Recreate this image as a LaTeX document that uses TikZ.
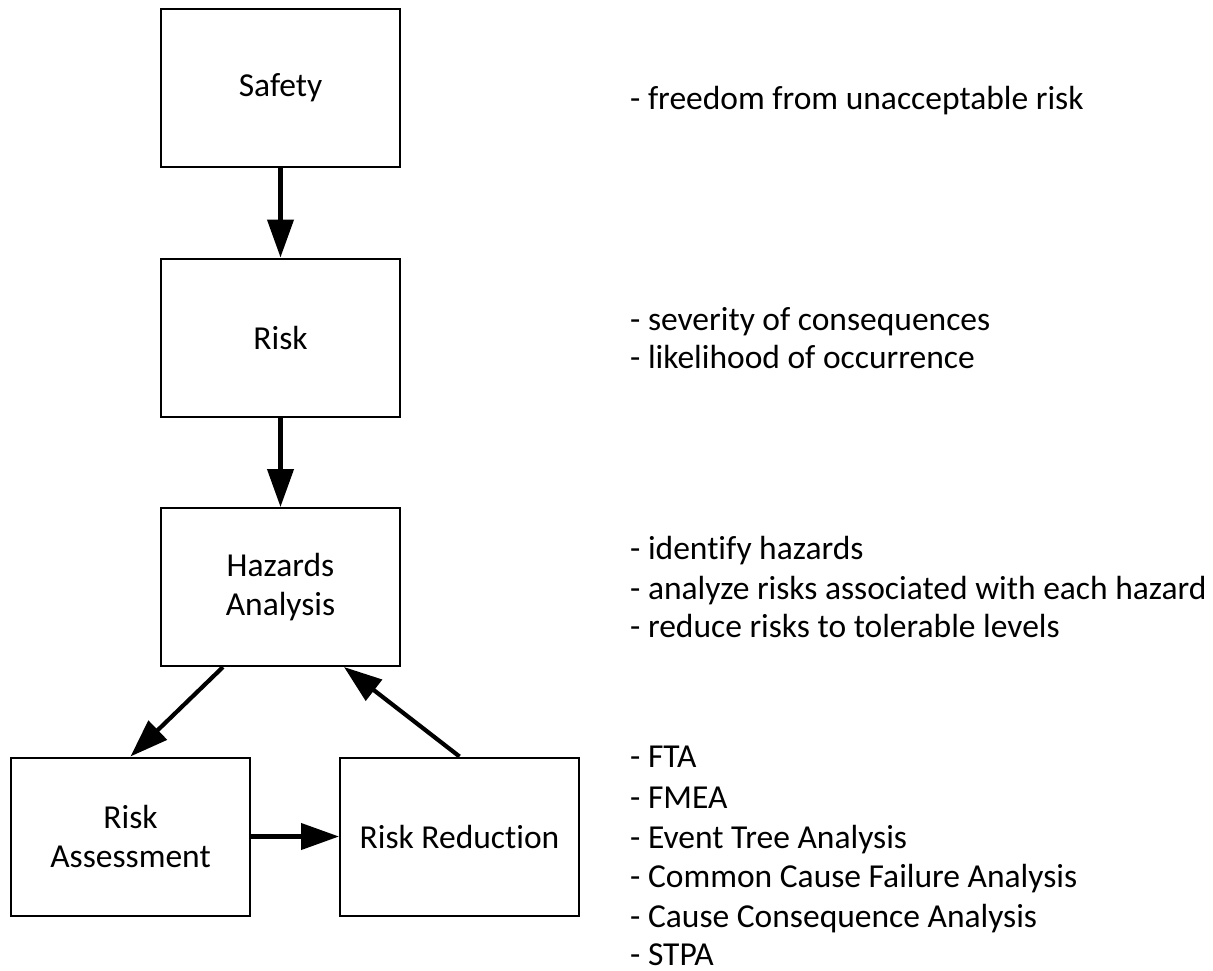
\documentclass[tikz,border=0pt]{standalone}
\usepackage{fontspec}
\setmainfont{Carlito}[Ligatures=NoCommon]
\usetikzlibrary{arrows.meta,calc}
\begin{document}
\begin{tikzpicture}[x=1pt,y=-1pt,
  box/.style={draw,line width=2pt,minimum width=239pt,minimum height=158pt,inner sep=0pt,align=center,font=\fontsize{33.5}{39.5}\selectfont},
  conn/.style={line width=4.2pt,-{Triangle[length=38pt,width=26pt]}},
  note/.style={anchor=base west,inner sep=0pt,font=\fontsize{33.5}{39}\selectfont}]
\useasboundingbox (0,0) rectangle (1213,971);
\node[box] (safety) at (280.5,88) {Safety};
\node[box] (risk) at (280.5,337.5) {Risk};
\node[box] (haz) at (280.5,587) {Hazards\\Analysis};
\node[box] (ra) at (130.5,836.5) {Risk\\Assessment};
\node[box] (rr) at (459.5,836.5) {Risk Reduction};
\draw[conn] (safety.south) -- (risk.north);
\draw[conn] (risk.south) -- (haz.north);
\draw[conn] ($(haz.south)+(-57.5,0)$) -- (ra.north);
\draw[conn] (rr.north) -- ($(haz.south)+(63.5,0)$);
\draw[conn] (ra.east) -- (rr.west);
\node[note] (n1) at (630,110) {- freedom from unacceptable risk};
\node[note] (n2) at (630,330) {- severity of consequences};
\node[note] (n3) at (630,368) {- likelihood of occurrence};
\node[note] (n4) at (630,559) {- identify hazards};
\node[note] (n5) at (630,599) {- analyze risks associated with each hazard};
\node[note] (n6) at (630,637) {- reduce risks to tolerable levels};
\node[note] (n7) at (630,767) {- FTA};
\node[note] (n8) at (630,808) {- FMEA};
\node[note] (n9) at (630,848) {- Event Tree Analysis};
\node[note] (n10) at (630,887) {- Common Cause Failure Analysis};
\node[note] (n11) at (630,927) {- Cause Consequence Analysis};
\node[note] (n12) at (630,965) {- STPA};
\end{tikzpicture}
\end{document}
